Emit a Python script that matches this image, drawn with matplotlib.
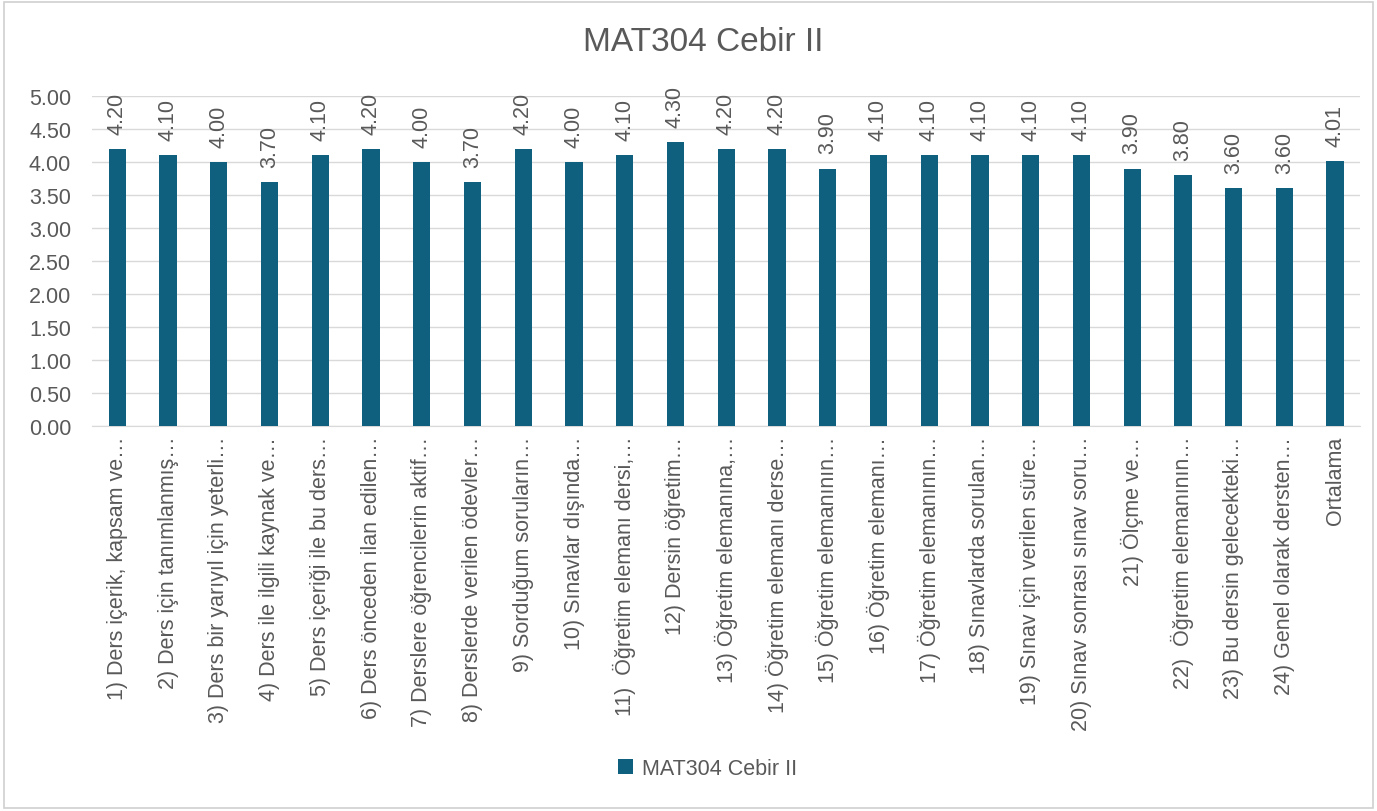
import matplotlib
matplotlib.use("Agg")
import matplotlib.pyplot as plt
from matplotlib.patches import Rectangle

plt.rcParams['font.family'] = ['Liberation Sans', 'DejaVu Sans']

categories = [
    "1) Ders içerik, kapsam ve…",
    "2) Ders için tanımlanmış…",
    "3) Ders bir yarıyıl için yeterli…",
    "4) Ders ile ilgili kaynak ve…",
    "5) Ders içeriği ile bu ders…",
    "6) Ders önceden ilan edilen…",
    "7) Derslere öğrencilerin aktif…",
    "8) Derslerde verilen ödevler…",
    "9) Sorduğum soruların…",
    "10) Sınavlar dışında…",
    "11)  Öğretim elemanı dersi,…",
    "12) Dersin öğretim…",
    "13) Öğretim elemanına,…",
    "14) Öğretim elemanı derse…",
    "15) Öğretim elemanının…",
    "16) Öğretim elemanı…",
    "17) Öğretim elemanının…",
    "18) Sınavlarda sorulan…",
    "19) Sınav için verilen süre…",
    "20) Sınav sonrası sınav soru…",
    "21) Ölçme ve…",
    "22)  Öğretim elemanının…",
    "23) Bu dersin gelecekteki…",
    "24) Genel olarak dersten…",
    "Ortalama",
]
values = [4.20, 4.10, 4.00, 3.70, 4.10, 4.20, 4.00, 3.70, 4.20, 4.00,
          4.10, 4.30, 4.20, 4.20, 3.90, 4.10, 4.10, 4.10, 4.10, 4.10,
          3.90, 3.80, 3.60, 3.60, 4.01]
series_name = "MAT304 Cebir II"
title = "MAT304 Cebir II"

bar_color = '#0f5f7e'
text_color = '#595959'
grid_color = '#d9d9d9'
fs = 15.5

fig = plt.figure(figsize=(13.77, 8.12), dpi=100)
fig.patches.append(Rectangle((0.003, 0.004), 0.994, 0.992, transform=fig.transFigure,
                             fill=False, edgecolor='#d0d0d0', linewidth=1.2))
ax = fig.add_axes([0.0668, 0.474, 0.9212, 0.4065])

x = list(range(len(categories)))
bars = ax.bar(x, values, width=0.34, color=bar_color, label=series_name, zorder=3)

for xi, v in zip(x, values):
    ax.annotate(f"{v:.2f}", (xi, v), xytext=(0, 11), textcoords='offset points',
                rotation=90, ha='center', va='bottom', fontsize=fs, color=text_color)

ax.set_xlim(-0.5, len(categories) - 0.5)
ax.set_ylim(0, 5)
ax.set_yticks([i * 0.5 for i in range(11)])
ax.set_yticklabels([f"{i * 0.5:.2f}" for i in range(11)], fontsize=fs, color=text_color)
ax.set_xticks(x)
ax.set_xticklabels(categories, rotation=90, fontsize=fs, color=text_color,
                   ha='center', va='top')
ax.tick_params(axis='x', length=0, pad=7)
ax.tick_params(axis='y', length=0, pad=15)
ax.grid(axis='y', color=grid_color, linewidth=1, zorder=0)
for s in ['top', 'right', 'left']:
    ax.spines[s].set_visible(False)
ax.spines['bottom'].set_color(grid_color)

fig.text(0.511, 0.948, title, ha='center', va='center', fontsize=24, color=text_color)

fig.legend(handles=[bars], labels=[series_name], loc='center', bbox_to_anchor=(0.514, 0.052),
           frameon=False, fontsize=fs, labelcolor=text_color, handlelength=0.7,
           handleheight=0.7, handletextpad=0.4)

fig.savefig("out.png", dpi=100, facecolor='white')
